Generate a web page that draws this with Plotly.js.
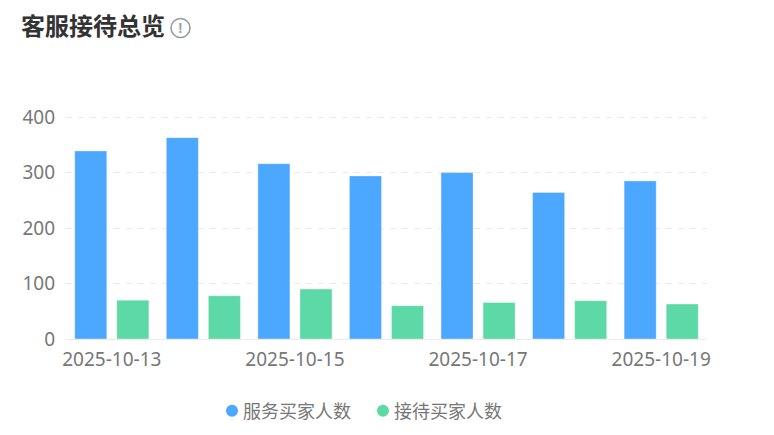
<!DOCTYPE html>
<html>
<head>
<meta charset="utf-8">
<script src="https://cdn.plot.ly/plotly-3.0.1.min.js"></script>
<style>
  html, body { margin: 0; padding: 0; background: #fff; }
</style>
</head>
<body>
<div id="chart" style="width:774px;height:435px;"></div>
<script>
const dates = ['2025-10-13', '2025-10-14', '2025-10-15', '2025-10-16', '2025-10-17', '2025-10-18', '2025-10-19'];
const serviceBuyers = [339, 363, 316, 294, 300, 264, 285];
const receptionBuyers = [70, 78, 90, 60, 66, 69, 63];
const xTicks = ['2025-10-13', '2025-10-15', '2025-10-17', '2025-10-19'];
const yTicks = [0, 100, 200, 300, 400];
const serviceName = '服务买家人数';
const receptionName = '接待买家人数';
const blue = '#4ba7ff';
const green = '#5cd9a6';

const W = 774, H = 435;
const margin = {l: 66, r: 67, t: 116, b: 96};
const plotW = W - margin.l - margin.r;
const plotH = H - margin.t - margin.b;
const px = x => (x - margin.l) / plotW;
const py = y => (H - margin.b - y) / plotH;

function barTrace(name, values, color) {
  return {
    type: 'bar',
    name,
    x: dates,
    y: values,
    marker: {color, line: {color: 'rgba(255,255,255,0.35)', width: 1}},
    showlegend: false,
    hoverinfo: 'x+y'
  };
}

// empty scatter traces, only so the legend gets round markers
function legendTrace(name, color) {
  return {
    type: 'scatter',
    mode: 'markers',
    name,
    x: [dates[0]],
    y: [null],
    marker: {color, size: 9},
    hoverinfo: 'skip'
  };
}

const traces = [
  barTrace(serviceName, serviceBuyers, blue),
  barTrace(receptionName, receptionBuyers, green),
  legendTrace(serviceName, blue),
  legendTrace(receptionName, green)
];

const layout = {
  width: W,
  height: H,
  margin: {l: margin.l, r: margin.r, t: margin.t, b: margin.b, pad: 0},
  paper_bgcolor: '#fff',
  plot_bgcolor: '#fff',
  font: {family: '"Noto Sans", "Noto Sans CJK SC", sans-serif', color: '#777777', size: 19},
  title: {
    text: '<b>客服接待总览</b>',
    font: {family: '"Noto Sans CJK SC", sans-serif', size: 24, color: '#333333'},
    x: 21 / W,
    xanchor: 'left',
    y: 1 - 27 / H,
    yanchor: 'middle'
  },
  barmode: 'group',
  bargap: 0.081,
  bargroupgap: 0.238,
  xaxis: {
    type: 'category',
    categoryorder: 'array',
    categoryarray: dates,
    range: [-0.5, 6.5],
    tickmode: 'array',
    tickvals: xTicks,
    ticktext: xTicks,
    ticks: '',
    ticklabelstandoff: 3,
    showgrid: false,
    zeroline: false,
    showline: true,
    linecolor: '#ececec',
    linewidth: 1,
    automargin: false,
    tickangle: 0,
    tickfont: {size: 19, color: '#777777'}
  },
  yaxis: {
    range: [0, 402],
    tickmode: 'array',
    tickvals: yTicks,
    ticks: '',
    ticklabelstandoff: 10,
    showline: false,
    zeroline: false,
    gridcolor: '#e9ecef',
    griddash: '6px,6px',
    gridwidth: 1,
    automargin: false,
    tickfont: {size: 19, color: '#777777'}
  },
  legend: {
    orientation: 'h',
    xref: 'container',
    x: 354 / W,
    xanchor: 'center',
    yref: 'container',
    y: 1 - 411 / H,
    yanchor: 'middle',
    entrywidth: 106,
    entrywidthmode: 'pixels',
    font: {family: '"Noto Sans CJK SC", sans-serif', size: 18, color: '#777777'},
    itemsizing: 'constant',
    bgcolor: 'rgba(0,0,0,0)'
  },
  shapes: [{
    type: 'circle',
    xref: 'paper',
    yref: 'paper',
    x0: px(171),
    x1: px(190),
    y0: py(37.5),
    y1: py(18.5),
    line: {color: '#8fa0a0', width: 1.6},
    fillcolor: 'rgba(0,0,0,0)'
  }],
  annotations: [{
    text: '<b>!</b>',
    xref: 'paper',
    yref: 'paper',
    x: px(180.5),
    y: py(28),
    xanchor: 'center',
    yanchor: 'middle',
    showarrow: false,
    font: {family: '"Liberation Sans", sans-serif', size: 14, color: '#8fa0a0'}
  }]
};

Plotly.newPlot('chart', traces, layout, {displayModeBar: false}).then(() => {
  // legend markers sit closer to their text in the original
  document.querySelectorAll('#chart .legend .legendpoints').forEach(el => {
    el.setAttribute('transform', 'translate(9,0)');
  });
});
</script>
</body>
</html>
